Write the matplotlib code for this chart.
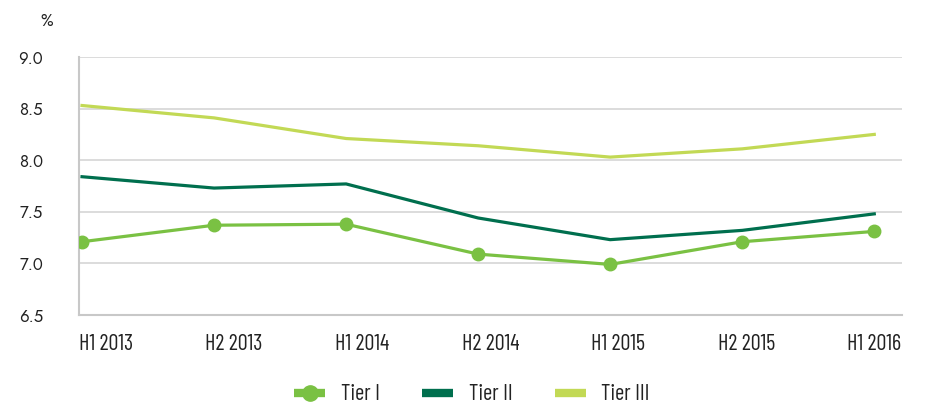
import matplotlib
matplotlib.use("Agg")
import matplotlib.pyplot as plt
from matplotlib.lines import Line2D
import numpy as np

categories = ["H1 2013", "H2 2013", "H1 2014", "H2 2014", "H1 2015", "H2 2015", "H1 2016"]
tier1 = [7.21, 7.37, 7.38, 7.09, 6.99, 7.21, 7.31]
tier2 = [7.84, 7.73, 7.77, 7.44, 7.23, 7.32, 7.48]
tier3 = [8.53, 8.41, 8.21, 8.14, 8.03, 8.11, 8.25]
yticks = [6.5, 7.0, 7.5, 8.0, 8.5, 9.0]

c1 = "#7ac143"
c2 = "#006f4e"
c3 = "#c2d955"

narrow = ["Barlow Condensed", "Archivo Narrow", "DejaVu Sans"]
geo = ["Jost", "Lato", "DejaVu Sans"]

fig = plt.figure(figsize=(9.26, 4.07), dpi=100)
ax = fig.add_axes([79/926, 1-315/407, (902-79)/926, (315-57)/407])

x = np.arange(len(categories))
ax.plot(x, tier3, color=c3, lw=2.3, solid_joinstyle="round", zorder=3)
ax.plot(x, tier2, color=c2, lw=2.3, solid_joinstyle="round", zorder=3)
ax.plot(x, tier1, color=c1, lw=2.3, marker="o", ms=9, zorder=4)

ax.set_xlim(-0.023, 6.21)
ax.set_ylim(6.5, 9.0)
ax.set_yticks(yticks)
ax.set_yticklabels([f"{v:.1f}" for v in yticks], family=geo, fontsize=12, color="#222222")
tickpos = 0.182 + 0.970 * x
ax.set_xticks(tickpos)
ax.set_xticklabels(categories, family=narrow, fontsize=16, color="#222222")
ax.tick_params(axis="y", length=0, pad=26)
ax.tick_params(axis="x", length=0, pad=14)

ax.grid(axis="y", color="#d6d6d6", lw=1.2)
ax.set_axisbelow(True)
for s in ["top", "right"]:
    ax.spines[s].set_visible(False)
ax.spines["left"].set_color("#c8c8c8")
ax.spines["left"].set_linewidth(1.5)
ax.spines["bottom"].set_color("#c8c8c8")
ax.spines["bottom"].set_linewidth(1.5)

fig.text(47/926, 1-21/407, "%", family=geo, fontsize=12, ha="center", va="center", color="#222222")

handles = [
    Line2D([], [], color=c1, lw=6, marker="o", ms=11, solid_capstyle="butt"),
    Line2D([], [], color=c2, lw=6, solid_capstyle="butt"),
    Line2D([], [], color=c3, lw=6, solid_capstyle="butt"),
]
leg = fig.legend(handles, ["Tier I", "Tier II", "Tier III"], loc="center",
                 bbox_to_anchor=(472/926, 1-395/407), ncol=3, frameon=False,
                 prop={"family": narrow, "size": 16}, handlelength=1.4,
                 columnspacing=1.9, handletextpad=0.7)
for t in leg.get_texts():
    t.set_color("#222222")

fig.savefig("out.png", dpi=100)
